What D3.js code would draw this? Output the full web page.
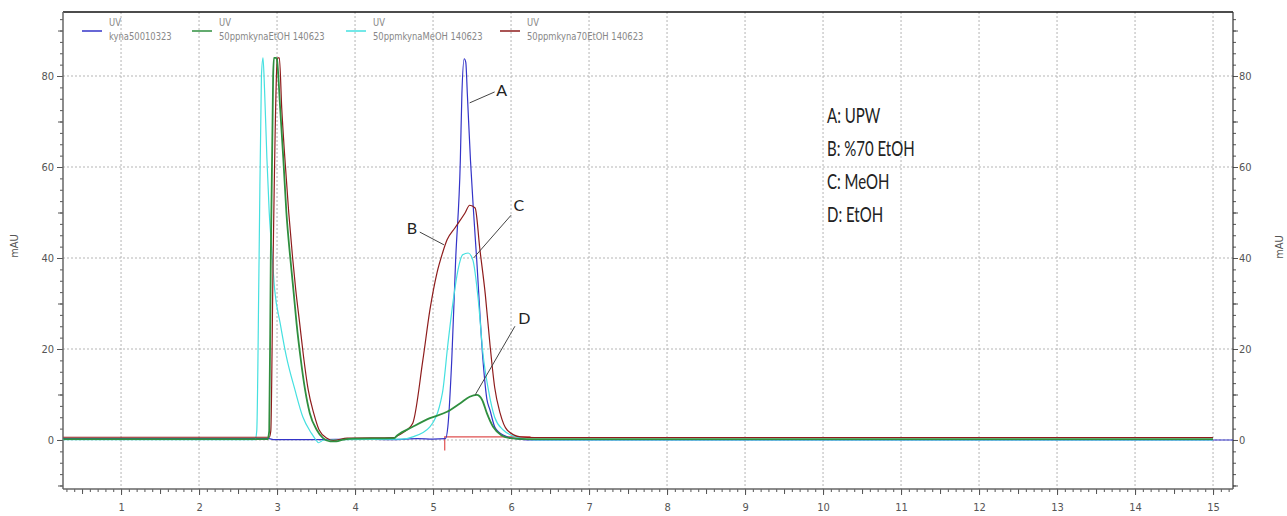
<!DOCTYPE html>
<html>
<head>
<meta charset="utf-8">
<script src="https://cdn.jsdelivr.net/npm/d3@7"></script>
<style>
  body { margin: 0; background: #fff; }
  svg { display: block; }
  .narrow { font-family: "Liberation Sans Narrow", "DejaVu Sans Condensed", "Arial Narrow", sans-serif; font-stretch: condensed; }
</style>
</head>
<body>
<div class="chart"></div>
<script>
// retention time (min), absorbance (mAU)
const kynaUPW = [[0.26,0.3],[2.9,0.3],[2.95,0.1],[3.5,0.1],[4.0,0.2],[4.5,0.1],[4.8,0.3],[5.0,0.2],[5.16,0.3],
  [5.19,2.9],[5.24,17.6],[5.29,39.6],[5.35,61.5],[5.37,76],[5.40,83.8],[5.42,83],[5.44,76],[5.48,61.5],[5.52,50],
  [5.56,39.6],[5.64,17.6],[5.69,9],[5.73,6.6],[5.79,2.9],[5.86,1.5],[5.95,0.7],[6.1,0.2],[6.3,0],[15.26,0]]

const kynaEtOH = [[0.26,0.2],[2.88,0.2],[2.90,2],[2.92,40],[2.95,80],[2.96,84],[2.99,84],[3.0,83.5],[3.04,73],
  [3.08,62],[3.12,50],[3.17,40],[3.21,33],[3.25,25.7],[3.30,18.3],[3.36,11],[3.42,5.9],[3.51,2.2],[3.59,0.4],
  [3.68,-0.3],[3.76,-0.3],[3.85,0.1],[4.0,0.3],[4.5,0.4],[4.54,1],[4.74,2.9],[4.96,4.8],[5.18,6.2],[5.35,8.1],
  [5.47,9.5],[5.56,9.9],[5.63,8.8],[5.69,5.9],[5.77,2.9],[5.88,1],[5.99,0.4],[6.2,0.2],[15.0,0.2]]

const kynaMeOH = [[0.26,0.1],[2.72,0.1],[2.74,2],[2.77,40],[2.80,80],[2.82,84],[2.84,77],[2.87,62],[2.90,50],
  [2.93,42.5],[2.97,33],[3.04,25.7],[3.12,18.3],[3.23,11],[3.33,5.1],[3.44,1.5],[3.50,0],[3.53,-0.6],[3.6,0],
  [3.8,0.1],[4.6,0.2],[4.74,0.7],[4.96,2.9],[5.12,10.3],[5.19,21],[5.26,30.8],[5.32,37.4],[5.38,40.7],[5.45,41.1],
  [5.51,39.6],[5.58,30.8],[5.64,19],[5.71,11],[5.79,5],[5.90,2.2],[6.08,0.6],[6.3,0],[15.0,0]]

const kyna70EtOH = [[0.26,0.6],[2.9,0.6],[2.92,2],[2.95,40],[3.0,83],[3.01,84],[3.03,84],[3.06,73],[3.10,62],
  [3.15,50],[3.20,40],[3.24,33],[3.29,25.7],[3.34,18.3],[3.40,11],[3.47,5.9],[3.54,2.2],[3.64,0.4],[3.72,-0.1],
  [3.9,0.4],[4.5,0.5],[4.55,1],[4.65,2],[4.74,3.7],[4.87,17.6],[4.96,28.6],[5.05,36.7],[5.12,41],[5.18,44],
  [5.28,46.6],[5.41,49.9],[5.47,51.6],[5.54,51],[5.60,42],[5.67,32],[5.73,21],[5.79,11.6],[5.86,5.9],[5.95,2.2],
  [6.12,0.7],[6.3,0.55],[15.0,0.55]]

const peakBaseline = [[5.15,-2.3],[5.15,0.7],[6.25,0.7]]

const seriesNames = ["kyna50010323", "50ppmkynaEtOH 140623", "50ppmkynaMeOH 140623", "50ppmkyna70EtOH 140623"]
const seriesColors = ["#3434c8", "#2f8f3f", "#45e0e0", "#8e1c1c"]
const seriesData = [kynaUPW, kynaEtOH, kynaMeOH, kyna70EtOH]
const drawOrder = [0, 2, 3, 1]

const xTicks = [1,2,3,4,5,6,7,8,9,10,11,12,13,14,15]
const yTicks = [0,20,40,60,80]

const solventKey = ["A: UPW", "B: %70 EtOH", "C: MeOH", "D: EtOH"]
// peak letter, label position, leader line from -> to (data units)
const peakLetters = ["A", "B", "C", "D"]
const peakLabelAt = [[5.88,76.9],[4.73,46.6],[6.10,51.6],[6.17,26.8]]
const leaderFrom = [[5.79,76.5],[4.83,45.7],[6.00,49.4],[6.05,25.0]]
const leaderTo = [[5.47,74.1],[5.14,42.9],[5.52,40.0],[5.54,9.9]]

const W = 1287, H = 516
const plot = { left: 63, top: 12, right: 1233, bottom: 489 }

const svg = d3.select(".chart").append("svg")
    .attr("width", W)
    .attr("height", H)

const x = d3.scaleLinear().domain([0.256, 15.256]).range([plot.left, plot.right])
const y = d3.scaleLinear().domain([-10.77, 94.07]).range([plot.bottom, plot.top])

//grid
svg.selectAll("line.vgrid")
    .data(xTicks)
    .enter().append("line")
    .attr("x1", d => x(d)).attr("x2", d => x(d))
    .attr("y1", plot.top).attr("y2", plot.bottom)
    .style("stroke", "#b5b5b5")
    .style("stroke-dasharray", "2 2")

svg.selectAll("line.hgrid")
    .data(yTicks)
    .enter().append("line")
    .attr("x1", plot.left).attr("x2", plot.right)
    .attr("y1", d => y(d)).attr("y2", d => y(d))
    .style("stroke", "#b5b5b5")
    .style("stroke-dasharray", "2 2")

// axes: minor / medium / major tick sets
function tickSet(axisFn, scale, values, size, labels) {
    const a = axisFn(scale).tickValues(values).tickSizeInner(size).tickSizeOuter(0).tickPadding(3)
    if (!labels) a.tickFormat("")
    return a
}

const yMinor = d3.range(-10, 94, 2.5)
const yMed = d3.range(-10, 94, 10)
const xMinor = d3.range(0.3, 15.26, 0.1).map(v => Math.round(v * 10) / 10)
const xMed = d3.range(0.5, 15.26, 0.5)

function drawAxis(axisFn, scale, tr, sets) {
    sets.forEach(s => {
        const g = svg.append("g")
            .attr("class", "narrow")
            .attr("transform", tr)
            .call(tickSet(axisFn, scale, s[0], s[1], s[2]))
        g.select(".domain").remove()
        g.selectAll("line").style("stroke", "#555")
        g.selectAll("text").style("font-size", "11px").style("fill", "#555")
    })
}

drawAxis(d3.axisLeft, y, `translate(${plot.left},0)`, [[yMinor, 3], [yMed, 5], [yTicks, 6, true]])
drawAxis(d3.axisRight, y, `translate(${plot.right},0)`, [[yMinor, 3], [yMed, 5], [yTicks, 3, true]])
drawAxis(d3.axisBottom, x, `translate(0,${plot.bottom})`, [[xMinor, 3], [xMed, 5], [xTicks, 6, true]])

svg.selectAll(".tick text").filter(function () { return this.getAttribute("y") !== null && +this.getAttribute("y") > 0 })
    .attr("y", 14)

// frame
svg.append("line").attr("x1", plot.left).attr("x2", plot.right).attr("y1", plot.top).attr("y2", plot.top)
    .style("stroke", "#111").style("stroke-width", 1.5)
svg.append("line").attr("x1", plot.left).attr("x2", plot.left).attr("y1", plot.top).attr("y2", plot.bottom)
    .style("stroke", "#666").style("stroke-width", 1.5)
svg.append("line").attr("x1", plot.right).attr("x2", plot.right).attr("y1", plot.top).attr("y2", plot.bottom)
    .style("stroke", "#333").style("stroke-width", 1.2)
svg.append("line").attr("x1", plot.left).attr("x2", plot.right).attr("y1", plot.bottom).attr("y2", plot.bottom)
    .style("stroke", "#666").style("stroke-width", 1.5)

// axis titles
svg.append("text").attr("class", "narrow")
    .attr("transform", `translate(18,246) rotate(-90)`)
    .attr("text-anchor", "middle")
    .style("font-size", "11px").style("fill", "#555")
    .text("mAU")
svg.append("text").attr("class", "narrow")
    .attr("transform", `translate(1283,247) rotate(-90)`)
    .attr("text-anchor", "middle")
    .style("font-size", "11px").style("fill", "#555")
    .text("mAU")

// traces
svg.append("clipPath").attr("id", "clip")
    .append("rect")
    .attr("x", plot.left).attr("y", plot.top)
    .attr("width", plot.right - plot.left).attr("height", plot.bottom - plot.top)

const line = d3.line()
    .x(d => x(d[0]))
    .y(d => y(d[1]))
    .curve(d3.curveMonotoneX)

const traces = svg.append("g").attr("clip-path", "url(#clip)")

traces.append("path")
    .datum(peakBaseline)
    .attr("d", d3.line().x(d => x(d[0])).y(d => y(d[1])))
    .style("fill", "none")
    .style("stroke", "#e05050")
    .style("stroke-width", 1.2)

drawOrder.forEach(i => {
    traces.append("path")
        .datum(seriesData[i])
        .attr("d", line)
        .style("fill", "none")
        .style("stroke", seriesColors[i])
        .style("stroke-width", i == 1 ? 1.8 : 1.2)
})

// legend
const legendX = [82, 192, 346, 500]
seriesNames.forEach((name, i) => {
    const g = svg.append("g").attr("transform", `translate(${legendX[i]},0)`)
    g.append("line")
        .attr("x1", 0).attr("x2", 20).attr("y1", 31).attr("y2", 31)
        .style("stroke", seriesColors[i]).style("stroke-width", 1.5)
    const t = g.append("g").attr("transform", "translate(27,0) scale(0.85,1)")
    t.append("text").attr("class", "narrow")
        .attr("x", 0).attr("y", 26)
        .style("font-size", "11px").style("fill", "#888")
        .text("UV")
    t.append("text").attr("class", "narrow")
        .attr("x", 0).attr("y", 40)
        .style("font-size", "11px").style("fill", "#888")
        .text(name)
})

// peak annotations
peakLetters.forEach((p, i) => {
    svg.append("line")
        .attr("x1", x(leaderFrom[i][0])).attr("y1", y(leaderFrom[i][1]))
        .attr("x2", x(leaderTo[i][0])).attr("y2", y(leaderTo[i][1]))
        .style("stroke", "#444").style("stroke-width", 1)
    svg.append("text")
        .attr("x", x(peakLabelAt[i][0])).attr("y", y(peakLabelAt[i][1]))
        .attr("text-anchor", "middle")
        .attr("dy", "0.36em")
        .style("font-family", "Lato, 'Open Sans', sans-serif")
        .style("font-size", "16px")
        .style("fill", "#222")
        .text(p)
})

solventKey.forEach((t, i) => {
    svg.append("text")
        .attr("transform", `translate(827,${123 + i * 33}) scale(1,1.35)`)
        .style("font-family", "Lato, 'Open Sans', sans-serif")
        .style("font-size", "15px")
        .style("fill", "#222")
        .text(t)
})
</script>
</body>
</html>
